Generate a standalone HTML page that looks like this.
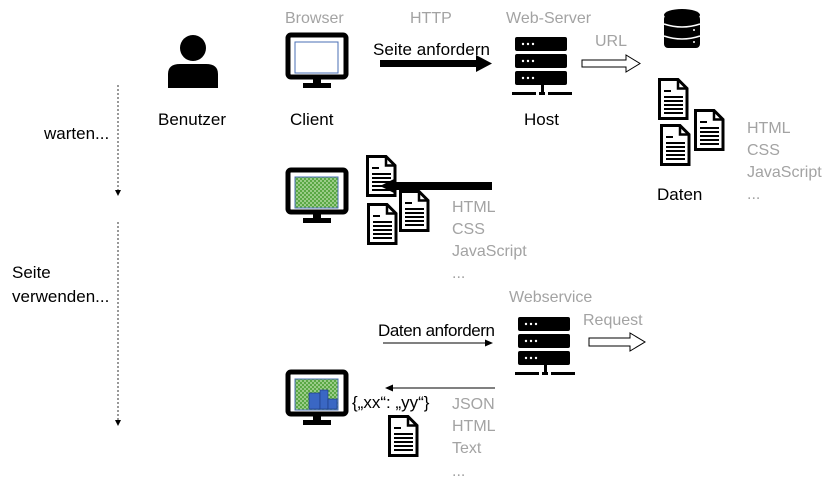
<!DOCTYPE html>
<html><head><meta charset="utf-8"><style>
body{margin:0;background:#fff}
svg{display:block}
text{font-family:"Liberation Sans",sans-serif;font-size:17px;fill:#000}
.g{fill:#a3a3a3;font-size:16px}
</style></head><body>
<svg width="834" height="492" viewBox="0 0 834 492">
<defs>
<pattern id="gr" width="4" height="4" patternUnits="userSpaceOnUse"><rect width="4" height="4" fill="#5aa845"/><circle cx="1" cy="1" r="0.9" fill="#c8e6b8"/><circle cx="3" cy="3" r="0.9" fill="#c8e6b8"/></pattern>
<g id="mon"><rect x="288" y="35" width="58" height="42" rx="3" fill="none" stroke="#000" stroke-width="5"/><rect x="313" y="78" width="8" height="6" fill="#000"/><rect x="303" y="83" width="28" height="5" fill="#000"/></g>
<g id="srv"><rect x="0" y="0" width="52" height="14" rx="2"/><rect x="0" y="17" width="52" height="14" rx="2"/><rect x="0" y="34" width="52" height="14" rx="2"/><rect x="26" y="48" width="3" height="10"/><rect x="-3" y="55" width="24" height="3"/><rect x="24" y="55" width="6" height="3"/><rect x="33" y="55" width="24" height="3"/>
<g fill="#fff"><circle cx="8" cy="7" r="1.2"/><circle cx="13" cy="7" r="1.2"/><circle cx="18" cy="7" r="1.2"/><circle cx="8" cy="24" r="1.2"/><circle cx="13" cy="24" r="1.2"/><circle cx="18" cy="24" r="1.2"/><circle cx="8" cy="41" r="1.2"/><circle cx="13" cy="41" r="1.2"/><circle cx="18" cy="41" r="1.2"/></g></g>
<g id="doc"><path d="M1.5 1.5 H20 L29 10.5 V40.5 H1.5 Z" fill="#fff" stroke="#000" stroke-width="3"/><path d="M20 1.5 V10.5 H29" fill="none" stroke="#000" stroke-width="2.5"/><g fill="#000"><rect x="6" y="12" width="7" height="2"/><rect x="6" y="18" width="19" height="2"/><rect x="6" y="22" width="19" height="2"/><rect x="6" y="26" width="19" height="2"/><rect x="6" y="30" width="19" height="2"/><rect x="6" y="34" width="19" height="2"/></g></g>
</defs>

<circle cx="193" cy="48" r="13" fill="#000"/>
<path d="M168 88 V74 Q168 64 180 64 H206 Q218 64 218 74 V88 Z" fill="#000"/>
<text x="158" y="125">Benutzer</text>
<line x1="118" y1="85" x2="118" y2="190" stroke="#333" stroke-dasharray="2,2"/>
<path d="M115 190 L121 190 L118 196 Z"/>
<line x1="118" y1="222" x2="118" y2="420" stroke="#333" stroke-dasharray="2,2"/>
<path d="M115 420 L121 420 L118 426 Z"/>
<text x="44" y="139">warten...</text>
<text x="12" y="278">Seite</text>
<text x="12" y="302">verwenden...</text>

<text class="g" x="285" y="23">Browser</text>
<text class="g" x="410" y="23">HTTP</text>
<text class="g" x="506" y="23">Web-Server</text>
<use href="#mon"/>
<rect x="295" y="42" width="43" height="31" fill="#fff" stroke="#4a6fb5" stroke-width="1"/>
<text x="290" y="125">Client</text>
<text x="373" y="55" textLength="117">Seite anfordern</text>
<rect x="380" y="60" width="98" height="7"/>
<path d="M476 55 L492 63.5 L476 72 Z"/>
<use href="#srv" x="515" y="37"/>
<text x="524" y="125">Host</text>
<text class="g" x="595" y="46">URL</text>
<path d="M582 60 H626 V55 L640 63.5 L626 72 V67 H582 Z" fill="#fff" stroke="#000"/>
<g fill="#000"><ellipse cx="682" cy="15" rx="18" ry="6"/><rect x="664" y="15" width="36" height="33" rx="4"/></g>
<g stroke="#fff" stroke-width="1.5" fill="none"><path d="M664 24 Q682 30 700 24"/><path d="M664 36 Q682 42 700 36"/></g>
<g fill="#fff"><circle cx="694" cy="30" r="1"/><circle cx="694" cy="42" r="1"/></g>
<use href="#doc" x="658" y="78"/>
<use href="#doc" x="694" y="109"/>
<use href="#doc" x="660" y="124"/>
<text x="657" y="200">Daten</text>
<text class="g" x="747" y="133">HTML</text>
<text class="g" x="747" y="155">CSS</text>
<text class="g" x="747" y="177">JavaScript</text>
<text class="g" x="747" y="199">...</text>

<use href="#mon" y="135"/>
<rect x="295" y="177" width="43" height="31" fill="url(#gr)" stroke="#4a6fb5" stroke-width="1"/>
<use href="#doc" x="366" y="155"/>
<use href="#doc" x="399" y="190"/>
<use href="#doc" x="367" y="203"/>
<rect x="394" y="182" width="98" height="8"/>
<path d="M396 178 L380 186 L396 194 Z"/>
<text class="g" x="452" y="212">HTML</text>
<text class="g" x="452" y="234">CSS</text>
<text class="g" x="452" y="256">JavaScript</text>
<text class="g" x="452" y="278">...</text>

<text class="g" x="509" y="302">Webservice</text>
<text class="g" x="583" y="325">Request</text>
<text x="378" y="336" textLength="117">Daten anfordern</text>
<line x1="383" y1="343" x2="486" y2="343" stroke="#000"/>
<path d="M485 339.5 L493 343 L485 346.5 Z"/>
<use href="#srv" x="518" y="317"/>
<path d="M589 338 H630 V333 L645 342 L630 351 V346 H589 Z" fill="#fff" stroke="#000"/>
<use href="#mon" y="337"/>
<rect x="295" y="379" width="43" height="31" fill="url(#gr)" stroke="#4a6fb5" stroke-width="1"/>
<g fill="#3a67c4" stroke="#1f3f86" stroke-width="0.7"><rect x="309" y="393" width="11" height="16"/><rect x="320" y="390" width="8" height="19"/><rect x="328" y="399" width="9" height="10"/></g>
<line x1="392" y1="388" x2="495" y2="388" stroke="#000"/>
<path d="M393 384.5 L385 388 L393 391.5 Z"/>
<text x="352" y="408">{„xx“: „yy“}</text>
<use href="#doc" x="388" y="415"/>
<text class="g" x="452" y="409">JSON</text>
<text class="g" x="452" y="431">HTML</text>
<text class="g" x="452" y="453">Text</text>
<text class="g" x="452" y="476">...</text>
</svg>
</body></html>
